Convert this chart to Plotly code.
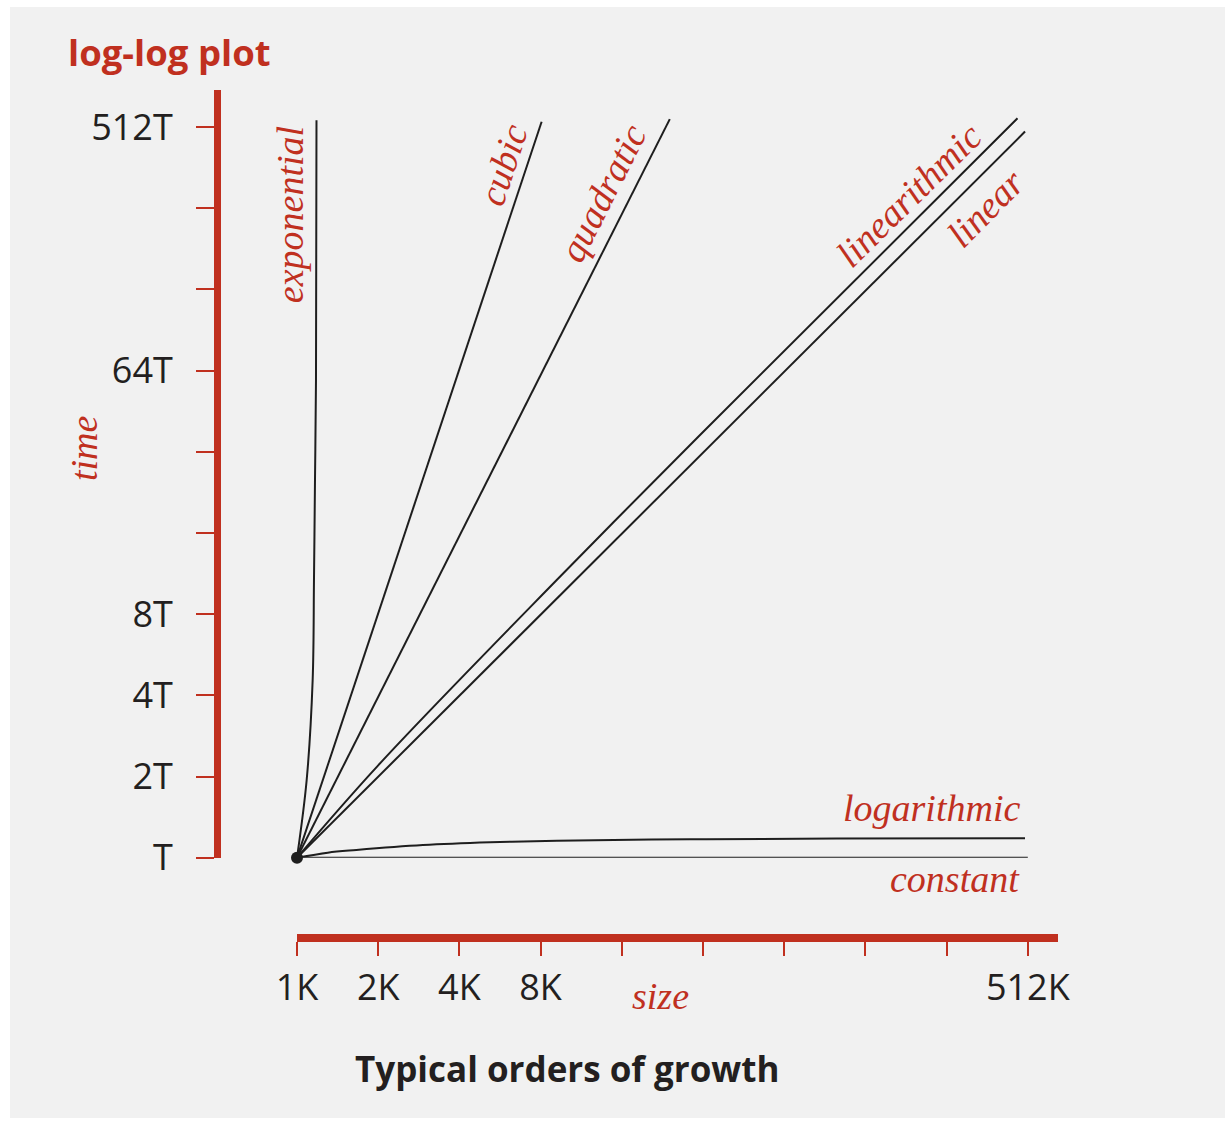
import math
import plotly.graph_objects as go

W, H = 1228, 1121
RED = "#c0301f"
INK = "#231f20"
LINE = "#1e1e1e"
SERIF = "Liberation Serif"
SANS = "Open Sans"

# axis ticks (size in K, time in units of T)
size_ticks = [1, 2, 4, 8, 16, 32, 64, 128, 256, 512]
size_labels = ["1K", "2K", "4K", "8K", "", "", "", "", "", "512K"]
time_ticks = [1, 2, 4, 8, 16, 32, 64, 128, 256, 512]
time_labels = ["T", "2T", "4T", "8T", "", "", "64T", "", "", "512T"]

# growth curves, all starting from (1K, T)
constant_n = [1, 512]
constant_t = [1, 1]

logarithmic_n = [1, 1.3, 1.66, 2.93, 5.2, 9.2, 28.6, 100, 500]
logarithmic_t = [1, 1.044, 1.068, 1.114, 1.141, 1.156, 1.17, 1.177, 1.18]

linear_n = [1, 500]
linear_t = [1, 492]

linearithmic_n = [1, 2, 9.18, 31.2, 469]
linearithmic_t = [1, 2.2, 10.7, 36.9, 551]

quadratic_n = [1, 24.1]
quadratic_t = [1, 547]

cubic_n = [1, 8.07]
cubic_t = [1, 535]

exponential_n = [1, 1.086, 1.143, 1.156, 1.166, 1.176, 1.181]
exponential_t = [1, 1.94, 4.56, 10.7, 25.1, 59, 542]

# (size, time, smoothed)
curves = [
    (constant_n, constant_t, False),
    (logarithmic_n, logarithmic_t, True),
    (linear_n, linear_t, False),
    (linearithmic_n, linearithmic_t, True),
    (quadratic_n, quadratic_t, False),
    (cubic_n, cubic_t, False),
    (exponential_n, exponential_t, True),
]

# curve labels: text, (size, time) anchor, pixel shift, rotation, horizontal anchor
curve_labels = [
    ("exponential", 1, 241, (-7, 0), -90, "center"),
    ("cubic", 5.95, 370, (-3, 0), -71.6, "center"),
    ("quadratic", 13.6, 291, (0, 0), -63.2, "center"),
    ("linearithmic", 185.7, 286, (0, 0), -44.5, "center"),
    ("linear", 358, 256, (0, 0), -45.5, "center"),
    ("logarithmic", 487, 1.53, (0, 0), 0, "right"),
    ("constant", 487, 1, (0, -21), 0, "right"),
]

fig = go.Figure()

for n, t, smooth in curves:
    fig.add_trace(go.Scatter(
        x=n, y=t, mode="lines",
        line=dict(color=LINE, width=2, shape="spline" if smooth else "linear"),
        cliponaxis=False, hoverinfo="skip", showlegend=False,
    ))

# common origin point
fig.add_trace(go.Scatter(
    x=[constant_n[0]], y=[constant_t[0]], mode="markers",
    marker=dict(color=LINE, size=12),
    cliponaxis=False, hoverinfo="skip", showlegend=False,
))

x_px0, x_px1 = 297, 1058
y_px0, y_px1 = 857.7, 90
px_per_doubling = 81.2
x_doublings = (x_px1 - x_px0) / px_per_doubling
y_doublings = (y_px0 - y_px1) / px_per_doubling

fig.update_xaxes(
    type="log",
    range=[0, x_doublings * math.log10(2)],
    domain=[x_px0 / W, x_px1 / W],
    anchor="free", position=1 - 938 / H,
    automargin=False,
    showline=True, linecolor=RED, linewidth=8,
    ticks="outside", ticklen=14, tickwidth=2, tickcolor=RED,
    tickvals=size_ticks, ticktext=size_labels,
    tickfont=dict(family=SANS, size=36, color=INK),
    ticklabelstandoff=1,
    showgrid=False, zeroline=False,
)
fig.update_yaxes(
    type="log",
    range=[0, y_doublings * math.log10(2)],
    domain=[1 - y_px0 / H, 1 - y_px1 / H],
    anchor="free", position=217 / W,
    automargin=False,
    showline=True, linecolor=RED, linewidth=7,
    ticks="outside", ticklen=18, tickwidth=2, tickcolor=RED,
    tickvals=time_ticks, ticktext=time_labels,
    tickfont=dict(family=SANS, size=36, color=INK),
    ticklabelstandoff=16,
    showgrid=False, zeroline=False,
)

for text, n, t, (dx, dy), angle, xa in curve_labels:
    fig.add_annotation(
        x=math.log10(n), y=math.log10(t), xref="x", yref="y",
        xshift=dx, yshift=dy,
        text=f"<i>{text}</i>", textangle=angle, showarrow=False,
        xanchor=xa, yanchor="middle",
        font=dict(family=SERIF, size=38, color=RED),
    )

# axis titles, chart title and caption
fig.add_annotation(
    x=84 / W, y=1 - 448 / H, xref="paper", yref="paper",
    text="<i>time</i>", textangle=-90, showarrow=False,
    xanchor="center", yanchor="middle",
    font=dict(family=SERIF, size=38, color=RED),
)
fig.add_annotation(
    x=660 / W, y=1 - 996 / H, xref="paper", yref="paper",
    text="<i>size</i>", showarrow=False,
    xanchor="center", yanchor="middle",
    font=dict(family=SERIF, size=38, color=RED),
)
fig.add_annotation(
    x=66 / W, y=1 - 52 / H, xref="paper", yref="paper",
    text="<b>log-log plot</b>", showarrow=False,
    xanchor="left", yanchor="middle",
    font=dict(family=SANS, size=36.5, color=RED),
)
fig.add_annotation(
    x=567 / W, y=1 - 1068 / H, xref="paper", yref="paper",
    text="<b>Typical orders of growth</b>", showarrow=False,
    xanchor="center", yanchor="middle",
    font=dict(family=SANS, size=35, color=INK),
)

fig.add_shape(
    type="rect", xref="paper", yref="paper", layer="below",
    x0=10 / W, x1=1225 / W, y0=1 - 1118 / H, y1=1 - 7 / H,
    fillcolor="#f1f1f1", line=dict(width=0),
)

fig.update_layout(
    width=W, height=H, autosize=False,
    margin=dict(l=0, r=0, t=0, b=0),
    paper_bgcolor="white", plot_bgcolor="rgba(0,0,0,0)",
    showlegend=False,
)

fig.write_html("out.html")
